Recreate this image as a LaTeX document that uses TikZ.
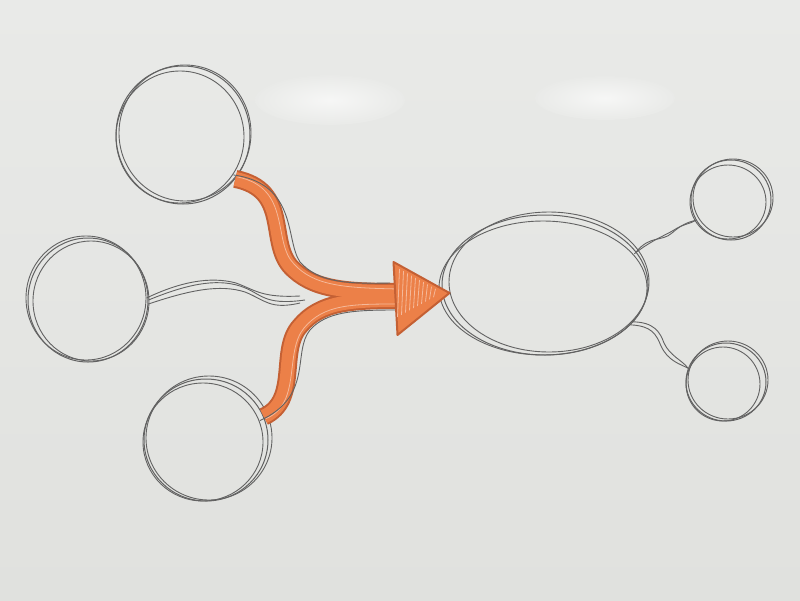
\documentclass[tikz,border=0pt]{standalone}
\usetikzlibrary{shapes.geometric}
\definecolor{board}{RGB}{224,225,222}
\definecolor{boardlight}{RGB}{233,234,232}
\definecolor{pen}{RGB}{98,98,98}
\definecolor{marker}{RGB}{236,128,72}
\definecolor{markerdark}{RGB}{196,96,52}

\begin{document}
\begin{tikzpicture}[x=1pt,y=-1pt]
\tikzstyle{ring}=[ellipse, draw=pen, line width=1pt, inner sep=0pt]
\tikzstyle{stroke}=[draw=pen, line width=0.9pt]
\tikzstyle{shaftedge}=[draw=markerdark, line width=18pt]
\tikzstyle{shaft}=[draw=marker, line width=14pt]
\tikzstyle{hatch}=[draw=marker!55!white, line width=0.8pt]
\tikzstyle{head}=[fill=marker, draw=markerdark, line width=2pt, line join=round]
\useasboundingbox (0,0) rectangle (800,600);
% whiteboard
\shade[top color=boardlight, bottom color=board] (0,0) rectangle (800,600);
\shade[inner color=white!60!boardlight, outer color=boardlight] (330,100) ellipse (75pt and 25pt);
\shade[inner color=white!60!boardlight, outer color=boardlight] (605,98) ellipse (70pt and 22pt);
% left circles
\node[ring, minimum width=134pt, minimum height=138pt] (srcA) at (183,135) {};
\draw[stroke] (srcA.center) ++(-3,2) ellipse (64pt and 66pt);
\draw[stroke] (srcA.center) ++(2,-2) ellipse (66pt and 68pt);
\node[ring, minimum width=120pt, minimum height=124pt] (srcB) at (88,300) {};
\draw[stroke] (srcB.center) ++(3,1) ellipse (58pt and 60pt);
\draw[stroke] (srcB.center) ++(-2,-2) ellipse (60pt and 62pt);
\node[ring, minimum width=124pt, minimum height=122pt] (srcC) at (206,440) {};
\draw[stroke] (srcC.center) ++(-3,2) ellipse (60pt and 59pt);
\draw[stroke] (srcC.center) ++(3,-2) ellipse (63pt and 62pt);
% target ellipse and outputs
\node[ring, minimum width=206pt, minimum height=140pt] (hub) at (545,285) {};
\draw[stroke] (hub.center) ++(4,-3) ellipse (100pt and 70pt);
\draw[stroke] (hub.center) ++(-2,3) ellipse (104pt and 67pt);
\node[ring, minimum width=80pt, minimum height=80pt] (outA) at (731,200) {};
\draw[stroke] (outA.center) ++(-3,2) ellipse (38pt and 37pt);
\draw[stroke] (outA.center) ++(2,-2) ellipse (40pt and 39pt);
\node[ring, minimum width=80pt, minimum height=78pt] (outB) at (726,382) {};
\draw[stroke] (outB.center) ++(-3,2) ellipse (37pt and 37pt);
\draw[stroke] (outB.center) ++(2,-2) ellipse (40pt and 39pt);
% grey line from middle circle
\draw[stroke] (srcB.east) .. controls (185,285) and (215,278) .. (240,286) .. controls (262,293) and (262,306) .. (305,300);
\draw[stroke] (srcB.east) ++(0,4) .. controls (190,290) and (220,284) .. (245,292) .. controls (265,300) and (270,310) .. (300,303);
\draw[stroke] (srcB.east) ++(-2,-2) .. controls (180,282) and (210,276) .. (236,283) .. controls (255,290) and (262,298) .. (300,296);
% orange arrow
\draw[shaftedge] (srcA.-40) .. controls (290,190) and (268,240) .. (290,266) .. controls (312,290) and (345,292) .. (400,292);
\draw[shaftedge] (srcC.22) .. controls (300,400) and (278,350) .. (300,326) .. controls (320,302) and (350,300) .. (400,300);
\draw[shaft] (srcA.-40) .. controls (290,190) and (268,240) .. (290,266) .. controls (312,290) and (345,292) .. (400,292);
\draw[shaft] (srcC.22) .. controls (300,400) and (278,350) .. (300,326) .. controls (320,302) and (350,300) .. (400,300);
\draw[hatch] (srcA.-40) ++(2,-2) .. controls (292,188) and (272,242) .. (294,264) .. controls (314,286) and (345,288) .. (400,289);
\draw[hatch] (srcC.22) ++(2,2) .. controls (302,404) and (284,352) .. (304,328) .. controls (324,304) and (352,304) .. (400,304);
\draw[stroke] (srcA.-40) ++(-2,-4) .. controls (298,184) and (285,240) .. (300,262) .. controls (318,282) and (345,284) .. (390,283);
\draw[stroke] (srcC.22) ++(-4,4) .. controls (314,396) and (292,352) .. (310,330) .. controls (326,312) and (352,310) .. (395,310);
\filldraw[head] (hub.west) ++(8,8) coordinate (tip) -- ++(-56,-31) -- ++(4,73) -- cycle;
\foreach \k in {0,...,9}
  \draw[hatch] (tip) ++(-50+4*\k,-24+2.2*\k) -- ++(-2,48-4.4*\k);
% short connectors on the right
\draw[stroke] (hub.20) .. controls (650,235) and (662,242) .. (672,233) .. controls (681,225) and (688,222) .. (outA.-150);
\draw[stroke] (hub.20) ++(-2,2) .. controls (652,240) and (664,236) .. (674,230) .. controls (683,224) and (690,224) .. (outA.-150);
\draw[stroke] (hub.-25) .. controls (652,326) and (656,334) .. (661,346) .. controls (668,361) and (680,364) .. (outB.160);
\draw[stroke] (hub.-25) ++(2,-3) .. controls (654,322) and (660,332) .. (664,343) .. controls (670,356) and (682,360) .. (outB.160);
\end{tikzpicture}
\end{document}
